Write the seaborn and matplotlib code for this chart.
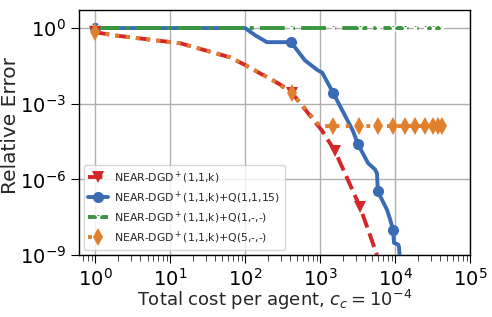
import numpy as np
import pandas as pd
import matplotlib
matplotlib.use("Agg")
import matplotlib.pyplot as plt
import seaborn as sns

# ---- data ----
red_x = [1, 1.74, 13.6, 63, 117, 158, 215, 400, 425, 1070, 1585, 3400, 5750]
red_y = [0.69, 0.52, 0.25, 0.069, 0.027, 0.016, 0.010, 3.3e-3, 2.6e-3, 8.3e-5, 1.3e-5, 8.3e-8, 1e-9]
red_marks = [0, 8, 10, 11]

blue_x = [1, 100, 136, 195, 410, 630, 935, 1070, 1490, 2750, 3200, 4370, 5400, 5750, 5900,
          7800, 8550, 9400, 9700, 11000, 11300, 11700]
blue_y = [1, 1, 0.52, 0.276, 0.276, 0.052, 0.021, 0.017, 2.75e-3, 8.3e-5, 2.5e-5, 4.4e-6,
          2.5e-6, 1.7e-6, 3.3e-7, 6.3e-8, 2.75e-8, 1e-8, 3e-9, 2.6e-9, 2.1e-9, 5e-10]
blue_marks = [0, 4, 8, 10, 14, 17]

green_x = [1, 410, 1490, 3400, 5900, 9400, 13500, 18400, 25000, 32000, 42000]
green_y = [1, 1, 1, 1, 1, 1, 1, 1, 1, 1, 1]
green_marks = list(range(11))

orange_x = [1, 1.74, 13.6, 63, 117, 158, 215, 425, 1000, 1490, 3300, 5900, 9400, 13500,
            18400, 25000, 32000, 38000, 42000]
orange_y = [0.69, 0.52, 0.25, 0.069, 0.027, 0.016, 0.010, 2.6e-3, 1.3e-4, 1.3e-4, 1.3e-4,
            1.3e-4, 1.3e-4, 1.3e-4, 1.3e-4, 1.3e-4, 1.3e-4, 1.3e-4, 1.3e-4]
orange_marks = [0, 7, 9, 10, 11, 12, 13, 14, 15, 16, 17, 18]

labels = [r"NEAR-DGD$^+$(1,1,k)",
          r"NEAR-DGD$^+$(1,1,k)+Q(1,1,15)",
          r"NEAR-DGD$^+$(1,1,k)+Q(1,-,-)",
          r"NEAR-DGD$^+$(1,1,k)+Q(5,-,-)"]

sns.set_style("whitegrid")
plt.rcParams['font.family'] = ['DejaVu Sans']

fig = plt.figure(figsize=(4.92, 3.17), dpi=100)
ax = fig.add_axes([79/492, 1 - 255/317, (470 - 79)/492, (255 - 10)/317])

c_red, c_blue, c_green, c_orange = "#d62728", "#3a6bb5", "#3a963f", "#e0802f"

sns.lineplot(x=red_x, y=red_y, ax=ax, sort=False, estimator=None, color=c_red,
             linestyle="--", linewidth=2.8, marker="v", markersize=8, markeredgewidth=0,
             markevery=red_marks, label=labels[0], zorder=4)
sns.lineplot(x=blue_x, y=blue_y, ax=ax, sort=False, estimator=None, color=c_blue,
             linestyle="-", linewidth=2.8, marker="o", markersize=8, markeredgewidth=0,
             markevery=blue_marks, label=labels[1], zorder=3)
sns.lineplot(x=green_x, y=green_y, ax=ax, sort=False, estimator=None, color=c_green,
             linestyle="-.", linewidth=2.8, marker="x", markersize=10, markeredgewidth=1.0,
             markevery=green_marks, label=labels[2], zorder=3.5)
sns.lineplot(x=orange_x, y=orange_y, ax=ax, sort=False, estimator=None, color=c_orange,
             linestyle=":", linewidth=2.8, marker="d", markersize=9, markeredgewidth=0,
             markevery=orange_marks, label=labels[3], zorder=5)

ax.set_xscale("log")
ax.set_yscale("log")
ax.set_xlim(0.61, 1e5)
ax.set_ylim(1e-9, 5.2)
ax.set_yticks([1e-9, 1e-6, 1e-3, 1e0])
ax.set_xticks([1e0, 1e1, 1e2, 1e3, 1e4, 1e5])
ax.tick_params(axis="both", labelsize=14, colors="black")
ax.tick_params(axis="x", which="both", bottom=True, direction="out", length=4)
ax.tick_params(axis="x", which="major", length=6)
ax.tick_params(axis="y", which="major", left=True, length=6)
ax.yaxis.set_minor_locator(matplotlib.ticker.NullLocator())
ax.grid(True, which="major", color="#b0b0b0", linewidth=1)
ax.grid(False, which="minor")
for s in ax.spines.values():
    s.set_color("black")
    s.set_linewidth(1)

ax.set_xlabel(r"Total cost per agent, $c_c=10^{-4}$", fontsize=13)
ax.set_ylabel("Relative Error", fontsize=14.5)
ax.xaxis.set_label_coords(0.50, -0.135)
ax.yaxis.set_label_coords(-0.15, 0.53)

leg = ax.legend(loc="lower left", fontsize=7.8, frameon=True, handlelength=1.8,
                handletextpad=0.6, labelspacing=0.35, borderaxespad=0.45)

fig.savefig("out.png", dpi=100)
